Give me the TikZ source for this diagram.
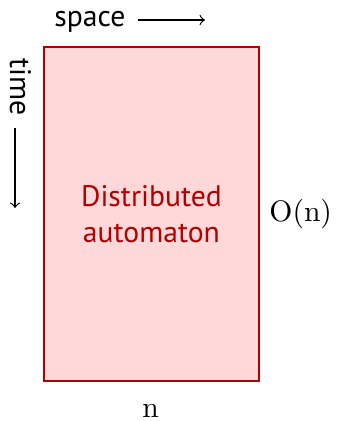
\documentclass[tikz,border=0pt]{standalone}
\usepackage[no-math]{fontspec}
\setmainfont{PT Sans}

\colorlet{autodark}{red!70!black}
\colorlet{autofill}{red!15}
\tikzset{
  automatonbox/.style={draw=autodark, fill=autofill, line width=0.5pt,
    minimum width=2.548cm, minimum height=3.958cm, align=center,
    text=autodark},
}

\begin{document}
\begin{tikzpicture}
                        \useasboundingbox (0,0) rectangle (4.005,4.989);
                        \node[automatonbox] (automaton) at (1.795,2.453) {Distributed\\automaton};
                        \node[anchor=base west] (space) at (0.521,4.672) {space};
                        \node[anchor=base west, rotate=-90] (time) at (0.119,4.42) {time};
                        \node[anchor=west] (size) at (3.069,2.453) {$\mathrm{O}(\mathrm{n})$};
                        \node[anchor=base] (width) at (1.785,0.047) {$\mathrm{n}$};

                        \coordinate (spacetail) at (1.635,4.752);
                        \coordinate (spacetip) at (2.429,4.752);
                        \coordinate (timetail) at (0.178,3.472);
                        \coordinate (timetip) at (0.178,2.524);
                        \draw[->] (spacetail) -- (spacetip);
                        \draw[->] (timetail) -- (timetip);
                    \end{tikzpicture}
\end{document}
